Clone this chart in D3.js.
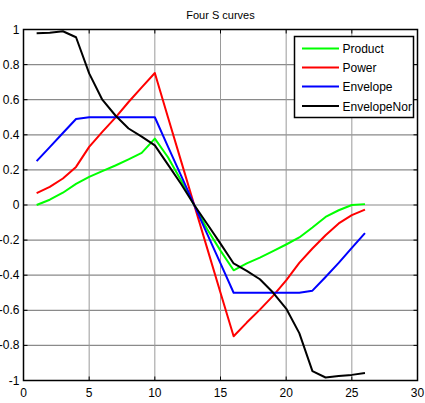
<!DOCTYPE html>
<html>
<head>
<meta charset="utf-8">
<script src="https://cdn.jsdelivr.net/npm/d3@7"></script>
<style>
	body { margin: 0; background: #fff; }
	text { font-family: 'Liberation Sans', Arial, sans-serif; }
</style>
</head>
<body>
<div id="chart"></div>
<script>
let xs = [1, 2, 3, 4, 5, 6, 7, 8, 9, 10, 11, 12, 13, 14, 15, 16, 17, 18, 19, 20, 21, 22, 23, 24, 25, 26]

let product = [0, 0.03, 0.07, 0.12, 0.16, 0.193, 0.225, 0.26, 0.297, 0.378, 0.272, 0.14, 0, -0.14, -0.26, -0.372, -0.333, -0.3, -0.263, -0.225, -0.185, -0.128, -0.068, -0.03, 0, 0.005]
let power = [0.068, 0.103, 0.151, 0.217, 0.331, 0.417, 0.498, 0.587, 0.67, 0.752, 0.5, 0.25, 0, -0.25, -0.5, -0.748, -0.67, -0.596, -0.518, -0.43, -0.33, -0.248, -0.172, -0.105, -0.058, -0.026]
let envelope = [0.25, 0.33, 0.41, 0.49, 0.5, 0.5, 0.5, 0.5, 0.5, 0.5, 0.333, 0.167, 0, -0.167, -0.333, -0.5, -0.5, -0.5, -0.5, -0.5, -0.5, -0.488, -0.41, -0.33, -0.244, -0.16]
let envelopeNor = [0.979, 0.982, 0.99, 0.956, 0.75, 0.6, 0.51, 0.436, 0.39, 0.34, 0.23, 0.12, 0, -0.11, -0.22, -0.333, -0.375, -0.423, -0.499, -0.59, -0.73, -0.947, -0.983, -0.975, -0.968, -0.957]

let seriesNames = ['Product', 'Power', 'Envelope', 'EnvelopeNor']
let seriesColors = ['#00ff00', '#ff0000', '#0000ff', '#000000']
let seriesValues = [product, power, envelope, envelopeNor]

let xTicks = [0, 5, 10, 15, 20, 25, 30]
let yTicks = [-1, -0.8, -0.6, -0.4, -0.2, 0, 0.2, 0.4, 0.6, 0.8, 1]

let W = 425
let H = 403
let plotL = 23.5, plotR = 417.5, plotT = 29.5, plotB = 380.5

let svg = d3
	.select('#chart')
	.append('svg')
	.attr('width', W)
	.attr('height', H)

let x = d3.scaleLinear().domain([0, 30]).range([plotL, plotR])
let y = d3.scaleLinear().domain([-1, 1]).range([plotB, plotT])

// grid
svg.append('g')
	.selectAll('line')
	.data(yTicks.slice(1, -1))
	.join('line')
	.attr('x1', plotL)
	.attr('x2', plotR)
	.attr('y1', d => y(d))
	.attr('y2', d => y(d))
	.attr('stroke', '#8a8a8a')
	.attr('stroke-width', 1.2)

svg.append('g')
	.selectAll('line')
	.data(xTicks.slice(1, -1))
	.join('line')
	.attr('x1', d => x(d))
	.attr('x2', d => x(d))
	.attr('y1', plotT)
	.attr('y2', plotB)
	.attr('stroke', '#9a9a9a')
	.attr('stroke-width', 1)

// ticks on all four sides, pointing inward
let tickLen = 4
let ticks = svg.append('g').attr('stroke', '#000').attr('stroke-width', 1)
xTicks.forEach(t => {
	ticks.append('line').attr('x1', x(t)).attr('x2', x(t)).attr('y1', plotB).attr('y2', plotB - tickLen)
	ticks.append('line').attr('x1', x(t)).attr('x2', x(t)).attr('y1', plotT).attr('y2', plotT + tickLen)
})
yTicks.forEach(t => {
	ticks.append('line').attr('x1', plotL).attr('x2', plotL + tickLen).attr('y1', y(t)).attr('y2', y(t))
	ticks.append('line').attr('x1', plotR).attr('x2', plotR - tickLen).attr('y1', y(t)).attr('y2', y(t))
})

// data lines
let line = d3.line()
	.x((d, i) => x(xs[i]))
	.y(d => y(d))

seriesValues.forEach((vals, k) => {
	svg.append('path')
		.datum(vals)
		.attr('fill', 'none')
		.attr('stroke', seriesColors[k])
		.attr('stroke-width', 2)
		.attr('stroke-linejoin', 'round')
		.attr('d', line)
})

// box
svg.append('rect')
	.attr('x', plotL)
	.attr('y', plotT)
	.attr('width', plotR - plotL)
	.attr('height', plotB - plotT)
	.attr('fill', 'none')
	.attr('stroke', '#000')
	.attr('stroke-width', 1.5)

// tick labels
svg.append('g')
	.selectAll('text')
	.data(xTicks)
	.join('text')
	.attr('x', d => x(d))
	.attr('y', plotB + 16)
	.attr('text-anchor', 'middle')
	.attr('font-size', 12)
	.text(d => d)

svg.append('g')
	.selectAll('text')
	.data(yTicks)
	.join('text')
	.attr('x', plotL - 4)
	.attr('y', d => y(d) + 4)
	.attr('text-anchor', 'end')
	.attr('font-size', 12)
	.text(d => d)

// title
svg.append('text')
	.attr('x', (plotL + plotR) / 2)
	.attr('y', 19)
	.attr('text-anchor', 'middle')
	.attr('font-size', 11)
	.text('Four S curves')

// legend
let legend = svg.append('g')
legend.append('rect')
	.attr('x', 294.5)
	.attr('y', 36.5)
	.attr('width', 119)
	.attr('height', 81)
	.attr('fill', '#fff')
	.attr('stroke', '#000')
	.attr('stroke-width', 1.5)

let rowY = [48.5, 67.5, 86.5, 106]
seriesNames.forEach((name, k) => {
	legend.append('line')
		.attr('x1', 302)
		.attr('x2', 339)
		.attr('y1', rowY[k])
		.attr('y2', rowY[k])
		.attr('stroke', seriesColors[k])
		.attr('stroke-width', 2)
	legend.append('text')
		.attr('x', 342.5)
		.attr('y', rowY[k] + 4.5)
		.attr('font-size', 12)
		.text(name)
})
</script>
</body>
</html>
